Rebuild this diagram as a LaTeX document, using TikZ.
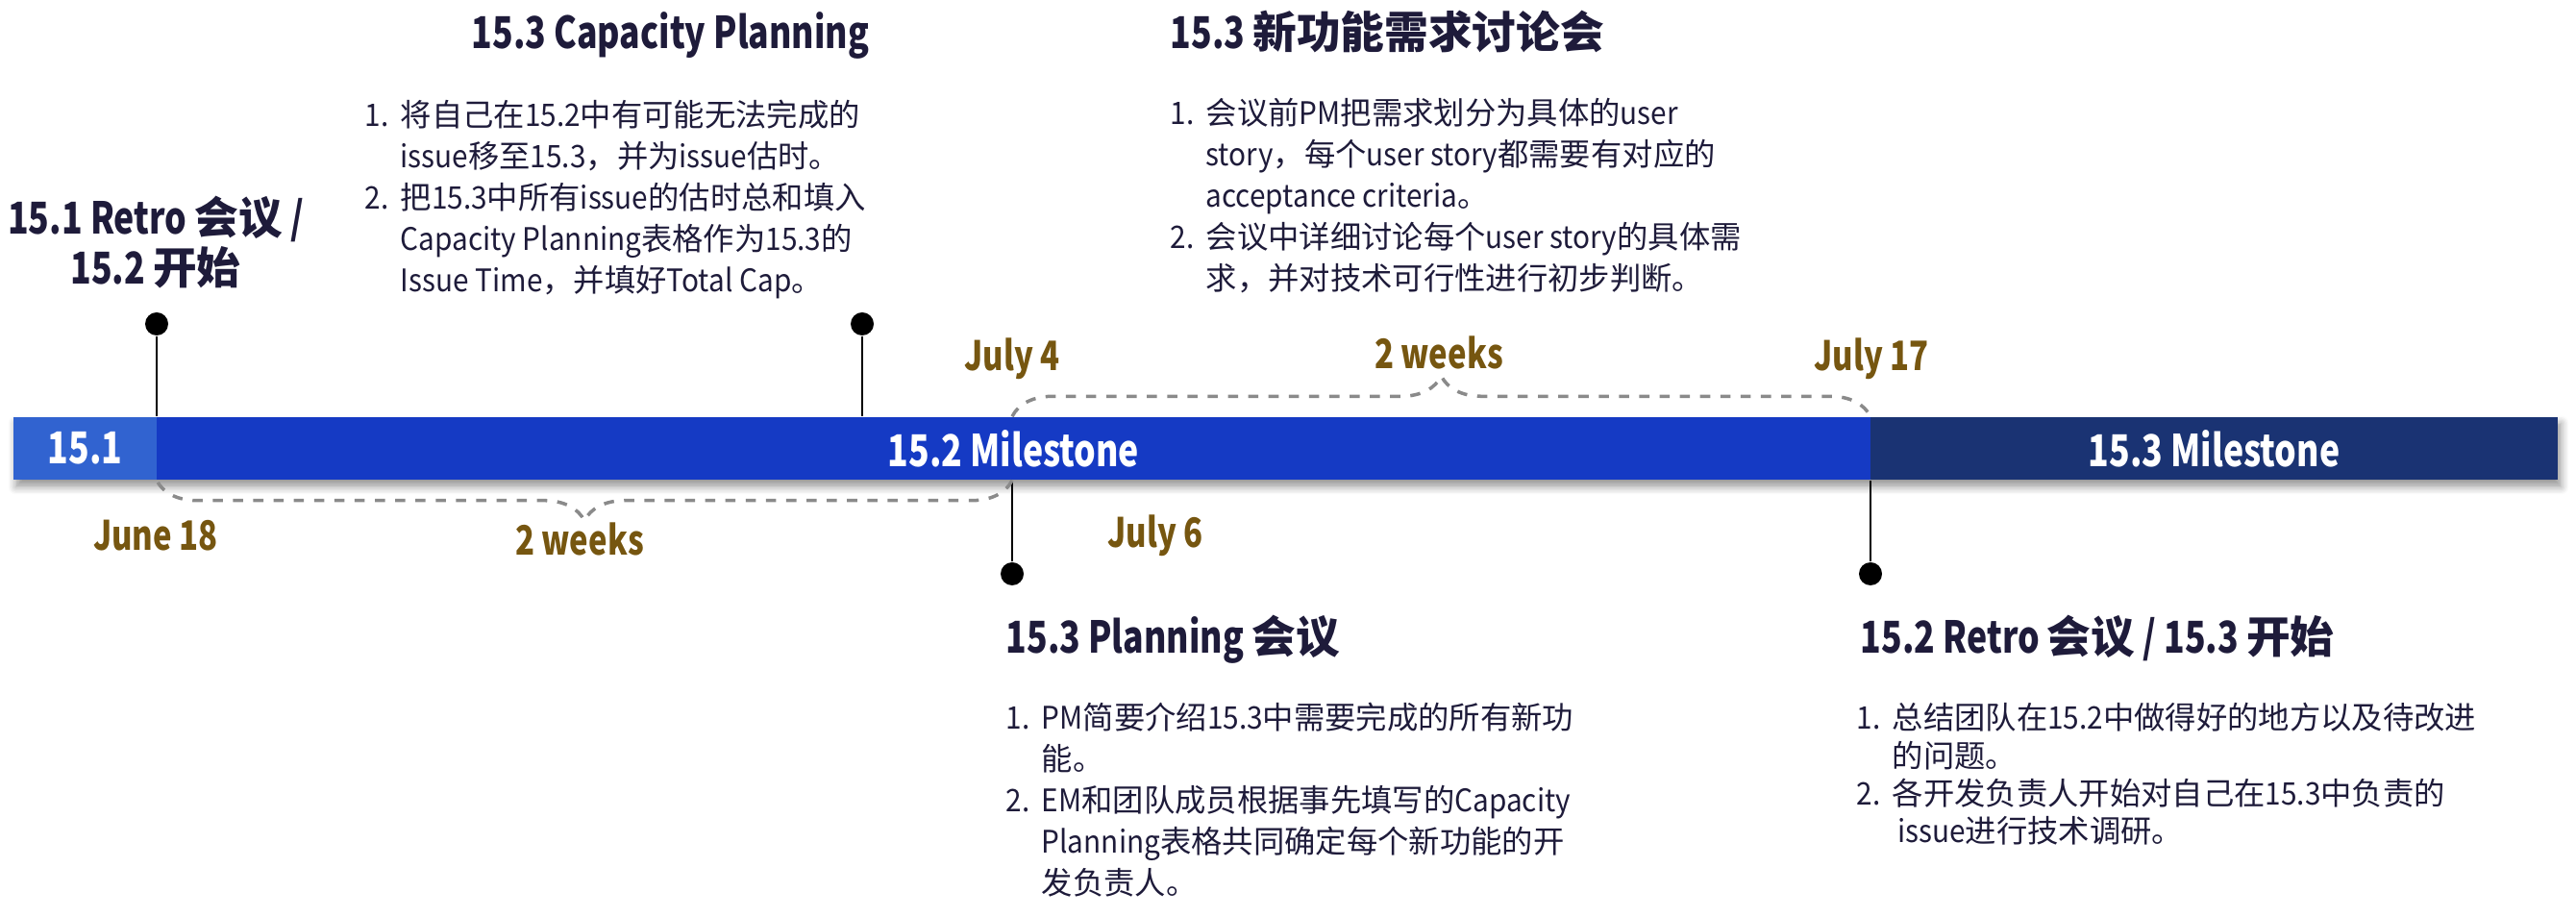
\documentclass[tikz,border=0pt]{standalone}
\usepackage{fontspec}
\setmainfont{Noto Sans CJK SC}[UprightFeatures={FakeStretch=0.92}, BoldFeatures={FakeStretch=0.78}]
\newfontfamily\cjkfont{Noto Sans CJK SC}
% CJK characters keep their full width
\newXeTeXintercharclass\cjkclass
\count255="3000
\loop\ifnum\count255<"A000 \XeTeXcharclass\count255=\cjkclass \advance\count255 by 1 \repeat
\count255="FF00
\loop\ifnum\count255<"FFF0 \XeTeXcharclass\count255=\cjkclass \advance\count255 by 1 \repeat
\XeTeXinterchartoks 0 \cjkclass = {\begingroup\cjkfont}
\XeTeXinterchartoks 4095 \cjkclass = {\begingroup\cjkfont}
\XeTeXinterchartoks \cjkclass 0 = {\endgroup}
\XeTeXinterchartoks \cjkclass 4095 = {\endgroup}
\XeTeXinterchartokenstate=1
\usetikzlibrary{decorations.pathreplacing,shadows.blur,backgrounds}
\definecolor{inkdark}{HTML}{1E1B3A}
\definecolor{datebrown}{HTML}{765610}
\definecolor{bar151}{HTML}{3163D0}
\definecolor{bar152}{HTML}{153AC4}
\definecolor{bar153}{HTML}{1A3373}
\definecolor{bracegray}{HTML}{8A8A8A}

\begin{document}
\begin{tikzpicture}[
  seg/.style={rectangle, minimum height=0.65cm, inner sep=0pt, text=white, font=\fontsize{13}{15}\selectfont\bfseries},
  evdot/.style={circle, fill=black, inner sep=0pt, minimum size=0.24cm},
  headline/.style={anchor=base west, inner sep=0pt, text=inkdark, font=\fontsize{13}{15}\selectfont\bfseries},
  notes/.style={anchor=base west, inner sep=0pt, text=inkdark, font=\fontsize{9.2}{12.2}\selectfont},
  datelbl/.style={text=datebrown, inner sep=0pt, font=\fontsize{12}{14}\selectfont\bfseries},
  span/.style={draw=bracegray, line width=1pt, dashed, decorate, decoration={brace, amplitude=0.42cm}},
]
\useasboundingbox (0,0) rectangle (26.8,-9.54);

% milestone bar
\node[seg, fill=bar151, minimum width=1.49cm] (s1) at (0.885,-4.665) {15.1};
\node[seg, fill=bar152, minimum width=17.83cm] (s2) at (10.545,-4.665) {15.2 Milestone};
\node[seg, fill=bar153, minimum width=7.15cm] (s3) at (23.035,-4.665) {15.3 Milestone};
\begin{scope}[on background layer]
  \path[blur shadow={shadow blur steps=6, shadow xshift=0.03cm, shadow yshift=-0.07cm, shadow opacity=40}] (s1.north west) rectangle (s3.south east);
\end{scope}

% events
\node[evdot] (e1) at (1.63,-3.37) {};
\node[evdot] (e2) at (8.97,-3.37) {};
\node[evdot] (e3) at (10.53,-5.97) {};
\node[evdot] (e4) at (19.46,-5.97) {};
\draw[line width=0.8pt] (e1) -- (e1 |- s2.north);
\draw[line width=0.8pt] (e2) -- (e2 |- s2.north);
\draw[line width=0.8pt] (e3) -- (e3 |- s2.south);
\draw[line width=0.8pt] (e4) -- (e4 |- s3.south);

\draw[span] (e3 |- s2.north) -- (e4 |- s2.north);
\draw[span] (e3 |- s2.south) -- (e1 |- s2.south);

\node[datelbl] (d4) at (10.53,-3.73) {July 4};
\node[datelbl] (w1) at (14.97,-3.67) {2 weeks};
\node[datelbl] (d17) at (19.47,-3.73) {July 17};
\node[datelbl] (d18) at (1.62,-5.57) {June 18};
\node[datelbl] (w2) at (6.03,-5.61) {2 weeks};
\node[datelbl] (d6) at (12.02,-5.57) {July 6};

% headings
\node[headline, anchor=center, align=center] (h1) at (1.62,-2.52) {15.1 Retro 会议 /\\15.2 开始};
\node[headline] (h2) at (4.90,-0.51) {15.3 Capacity Planning};
\node[headline] (h3) at (12.17,-0.51) {15.3 新功能需求讨论会};
\node[headline] (h4) at (10.46,-6.80) {15.3 Planning 会议};
\node[headline] (h5) at (19.35,-6.80) {15.2 Retro 会议 / 15.3 开始};

% notes
\node[notes] (n2) at (3.79,-1.32) {\begin{tabular}[t]{@{}p{0.37cm}@{}l@{}}
1. & 将自己在15.2中有可能无法完成的\\
   & issue移至15.3，并为issue估时。\\
2. & 把15.3中所有issue的估时总和填入\\
   & Capacity Planning表格作为15.3的\\
   & Issue Time，并填好Total Cap。
\end{tabular}};
\node[notes] (n3) at (12.17,-1.30) {\begin{tabular}[t]{@{}p{0.37cm}@{}l@{}}
1. & 会议前PM把需求划分为具体的user\\
   & story，每个user story都需要有对应的\\
   & acceptance criteria。\\
2. & 会议中详细讨论每个user story的具体需\\
   & 求，并对技术可行性进行初步判断。
\end{tabular}};
\node[notes] (n4) at (10.46,-7.59) {\begin{tabular}[t]{@{}p{0.37cm}@{}l@{}}
1. & PM简要介绍15.3中需要完成的所有新功\\
   & 能。\\
2. & EM和团队成员根据事先填写的Capacity\\
   & Planning表格共同确定每个新功能的开\\
   & 发负责人。
\end{tabular}};
\node[notes, font=\fontsize{9.2}{11.1}\selectfont] (n5) at (19.31,-7.59) {\begin{tabular}[t]{@{}p{0.37cm}@{}l@{}}
1. & 总结团队在15.2中做得好的地方以及待改进\\
   & 的问题。\\
2. & 各开发负责人开始对自己在15.3中负责的\\
   & \,issue进行技术调研。
\end{tabular}};
\end{tikzpicture}
\end{document}
